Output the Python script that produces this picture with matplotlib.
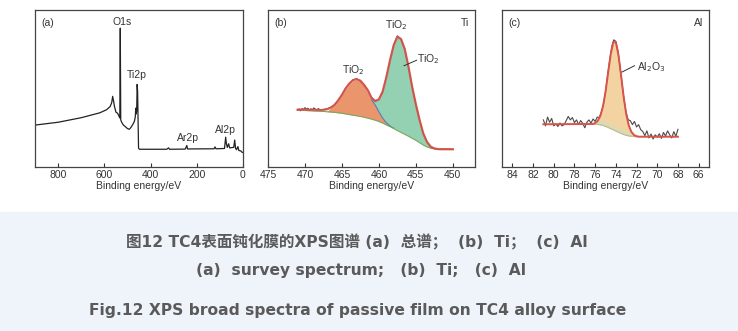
import numpy as np
import matplotlib
matplotlib.use('Agg')
import matplotlib.pyplot as plt
from matplotlib.patches import Rectangle

plt.rcParams['font.family'] = ['Liberation Sans', 'DejaVu Sans']

# (a) survey spectrum, binding energy (eV) / normalised intensity
survey_ev = [900, 800, 700, 620, 590, 575, 568, 564, 560, 556, 550, 545, 541, 536, 533,
             531, 529, 525, 518, 510, 500, 492, 485, 478, 470, 466, 464, 462, 460, 458,
             456, 454, 452, 448, 400, 330, 322, 318, 250, 243, 240, 125, 121, 117, 80,
             75, 72, 68, 62, 58, 40, 36, 32, 28, 22, 18, 10, 5, 0]
survey_val = [0.267, 0.285, 0.314, 0.345, 0.365, 0.385, 0.410, 0.450, 0.420, 0.385, 0.350,
              0.345, 0.338, 0.322, 0.312, 0.884, 0.300, 0.285, 0.268, 0.258, 0.245, 0.240,
              0.252, 0.268, 0.290, 0.320, 0.375, 0.338, 0.360, 0.526, 0.480, 0.300, 0.120,
              0.113, 0.113, 0.113, 0.122, 0.113, 0.114, 0.137, 0.115, 0.116, 0.128, 0.116,
              0.118, 0.190, 0.150, 0.125, 0.148, 0.122, 0.125, 0.172, 0.118, 0.110, 0.130,
              0.105, 0.103, 0.095, 0.092]
survey_peaks = ['O1s', 'Ti2p', 'Ar2p', 'Al2p']
survey_peak_pos = [(524, 0.926), (459, 0.583), (238, 0.185), (74, 0.236)]

# (b) Ti 2p narrow scan, 0.5 eV grid
ti_ev = [471.0 - 0.5 * i for i in range(43)]
ti_bg = [0.363, 0.362, 0.360, 0.358, 0.357, 0.356, 0.355, 0.354, 0.352, 0.350, 0.348,
         0.345, 0.342, 0.338, 0.334, 0.330, 0.326, 0.322, 0.317, 0.311, 0.305, 0.298,
         0.290, 0.280, 0.268, 0.257, 0.245, 0.232, 0.220, 0.208, 0.196, 0.183, 0.170,
         0.155, 0.140, 0.128, 0.120, 0.116, 0.114, 0.113, 0.113, 0.113, 0.113]
ti_fit = [0.365, 0.366, 0.365, 0.364, 0.363, 0.362, 0.362, 0.364, 0.368, 0.378, 0.396,
          0.424, 0.460, 0.500, 0.532, 0.552, 0.559, 0.550, 0.522, 0.490, 0.440, 0.421,
          0.430, 0.480, 0.570, 0.680, 0.775, 0.830, 0.815, 0.750, 0.640, 0.510, 0.400,
          0.300, 0.215, 0.160, 0.130, 0.118, 0.114, 0.113, 0.113, 0.113, 0.113]
# background + Ti 2p1/2 component
ti_comp1 = [0.363, 0.362, 0.360, 0.358, 0.357, 0.356, 0.355, 0.354, 0.353, 0.377, 0.394,
            0.422, 0.457, 0.496, 0.528, 0.548, 0.555, 0.546, 0.516, 0.472, 0.428, 0.395,
            0.352, 0.312, 0.282, 0.262, 0.247, 0.233, 0.220, 0.208, 0.196, 0.183, 0.170,
            0.155, 0.140, 0.128, 0.120, 0.116, 0.114, 0.113, 0.113, 0.113, 0.113]
ti_raw_ev = [471.0, 470.8, 470.6, 470.4, 470.2, 470.0, 469.8, 469.6, 469.4, 469.2, 469.0,
             468.8, 468.6, 468.4, 468.2, 468.0, 467.8, 467.6, 467.0, 466.5, 466.0, 465.5,
             465.0, 464.5, 464.0, 463.5, 463.0, 462.5, 462.0, 461.5, 461.0, 460.5, 460.0,
             459.5, 459.0, 458.5, 458.0, 457.5, 457.0, 456.5, 456.0, 455.5, 455.0, 454.5,
             454.0, 453.5, 453.0, 452.5, 452.0, 451.0, 450.0]
ti_raw = [0.362, 0.370, 0.358, 0.372, 0.366, 0.378, 0.368, 0.374, 0.362, 0.371, 0.365,
          0.376, 0.369, 0.364, 0.372, 0.366, 0.363, 0.365, 0.371, 0.381, 0.394, 0.427,
          0.458, 0.503, 0.530, 0.556, 0.562, 0.547, 0.525, 0.487, 0.444, 0.417, 0.433,
          0.477, 0.573, 0.676, 0.779, 0.835, 0.812, 0.754, 0.636, 0.513, 0.397, 0.303,
          0.212, 0.162, 0.128, 0.119, 0.113, 0.114, 0.112]

# (c) Al 2p narrow scan
al_ev = [81.0, 76.25, 76.0, 75.75, 75.5, 75.25, 75.0, 74.75, 74.5, 74.25, 74.0, 73.75,
         73.5, 73.25, 73.0, 72.75, 72.5, 72.25, 72.0, 71.75, 68.0]
al_bg = [0.272, 0.272, 0.272, 0.271, 0.269, 0.265, 0.259, 0.252, 0.244, 0.237, 0.229,
         0.221, 0.214, 0.207, 0.202, 0.198, 0.196, 0.194, 0.193, 0.193, 0.193]
al_fit = [0.272, 0.274, 0.280, 0.294, 0.325, 0.384, 0.478, 0.598, 0.716, 0.795, 0.795,
          0.714, 0.586, 0.449, 0.338, 0.264, 0.224, 0.204, 0.196, 0.193, 0.193]
al_raw_ev = [81.0 - 0.2 * i for i in range(66)]
al_raw = [0.300, 0.262, 0.318, 0.285, 0.309, 0.262, 0.275, 0.258, 0.280, 0.262, 0.270,
          0.295, 0.322, 0.300, 0.315, 0.283, 0.300, 0.270, 0.296, 0.278, 0.250, 0.285,
          0.300, 0.280, 0.306, 0.290, 0.318, 0.315, 0.350, 0.400, 0.478, 0.585, 0.680,
          0.765, 0.810, 0.800, 0.740, 0.640, 0.530, 0.425, 0.345, 0.300, 0.295, 0.270,
          0.290, 0.255, 0.270, 0.238, 0.226, 0.200, 0.230, 0.185, 0.210, 0.178, 0.205,
          0.190, 0.212, 0.182, 0.220, 0.198, 0.230, 0.205, 0.185, 0.225, 0.196, 0.240]

RED = '#d9534a'
RAW = '#4a4a4a'
TXT = '#333333'


def style_axes(ax, xlim, ticks):
    ax.set_xlim(*xlim)
    ax.set_ylim(0, 1)
    ax.set_xticks(ticks)
    ax.set_yticks([])
    ax.tick_params(axis='x', direction='in', length=3, width=0.8, pad=2,
                   labelsize=7.5, colors=TXT)
    for s in ax.spines.values():
        s.set_linewidth(0.9)
        s.set_color('#444444')
    ax.set_xlabel('Binding energy/eV', fontsize=7.5, color=TXT, labelpad=1)


fig = plt.figure(figsize=(7.38, 3.31), dpi=100)
fig.patches.append(Rectangle((0, 0), 1, 119 / 331, transform=fig.transFigure,
                             color='#eff3fa', zorder=0))

h = 157 / 331
y0 = 1 - 167 / 331
ax_a = fig.add_axes([35 / 738, y0, 208 / 738, h])
ax_b = fig.add_axes([268 / 738, y0, 207 / 738, h])
ax_c = fig.add_axes([502 / 738, y0, 207 / 738, h])

# (a)
ax_a.plot(survey_ev, survey_val, color='#222222', lw=0.9)
style_axes(ax_a, (900, 0), [800, 600, 400, 200, 0])
for name, (x, y) in zip(survey_peaks, survey_peak_pos):
    ax_a.text(x, y, name, ha='center', va='center', fontsize=7.5, color=TXT)
ax_a.text(0.03, 0.95, '(a)', transform=ax_a.transAxes, ha='left', va='top',
          fontsize=7.5, color=TXT)

# (b)
ti_ev_a = np.array(ti_ev)
ti_bg_a = np.array(ti_bg)
ti_fit_a = np.array(ti_fit)
ti_c1_a = np.array(ti_comp1)
ax_b.fill_between(ti_ev_a, ti_bg_a, ti_c1_a, where=ti_ev_a >= 458.0,
                  color='#ea956b', lw=0)
ax_b.fill_between(ti_ev_a, ti_c1_a, ti_fit_a, where=ti_ev_a <= 461.0,
                  color='#93d1b2', lw=0)
seg = (ti_ev_a <= 461.0) & (ti_ev_a >= 458.0)
ax_b.plot(ti_ev_a[seg], ti_c1_a[seg], color='#4d7fb8', lw=0.8)
ax_b.plot(ti_ev, ti_bg, color='#7aa95e', lw=0.8)
ax_b.plot(ti_raw_ev, ti_raw, color=RAW, lw=0.8)
ax_b.plot(ti_ev, ti_fit, color=RED, lw=1.6, alpha=0.9)
style_axes(ax_b, (475, 447), [475, 470, 465, 460, 455, 450])
ax_b.text(457.7, 0.905, 'TiO$_2$', ha='center', va='center', fontsize=7.5, color=TXT)
ax_b.text(463.5, 0.62, 'TiO$_2$', ha='center', va='center', fontsize=7.5, color=TXT)
ax_b.text(454.9, 0.69, 'TiO$_2$', ha='left', va='center', fontsize=7.5, color=TXT)
ax_b.plot([454.9, 456.6], [0.68, 0.645], color='#333333', lw=0.7)
ax_b.text(0.03, 0.95, '(b)', transform=ax_b.transAxes, ha='left', va='top',
          fontsize=7.5, color=TXT)
ax_b.text(0.97, 0.95, 'Ti', transform=ax_b.transAxes, ha='right', va='top',
          fontsize=7.5, color=TXT)

# (c)
al_ev_a = np.array(al_ev)
al_bg_a = np.array(al_bg)
peak = (al_ev_a <= 76.25) & (al_ev_a >= 71.75)
ax_c.fill_between(al_ev_a, al_bg_a, al_fit, where=peak, color='#f4d3a3', lw=0)
ax_c.fill_between(al_ev_a, al_bg_a, np.minimum(al_bg_a + 0.03, al_fit),
                  where=peak, color='#ddd9b2', lw=0)
ax_c.plot(al_ev, al_bg, color='#b8bd8e', lw=0.8)
ax_c.plot(al_raw_ev, al_raw, color=RAW, lw=0.8)
ax_c.plot(al_ev, al_fit, color=RED, lw=1.4)
style_axes(ax_c, (85, 65), [84, 82, 80, 78, 76, 74, 72, 70, 68, 66])
ax_c.text(72.0, 0.635, 'Al$_2$O$_3$', ha='left', va='center', fontsize=7.5, color=TXT)
ax_c.plot([72.2, 73.4], [0.645, 0.605], color='#333333', lw=0.7)
ax_c.text(0.03, 0.95, '(c)', transform=ax_c.transAxes, ha='left', va='top',
          fontsize=7.5, color=TXT)
ax_c.text(0.97, 0.95, 'Al', transform=ax_c.transAxes, ha='right', va='top',
          fontsize=7.5, color=TXT)

# caption
cap_font = ['DejaVu Sans', 'Noto Sans CJK SC']
cap_kw = dict(ha='center', va='center', fontsize=11.2, fontweight='bold',
              color='#5a5a5a', family=cap_font)
fig.text(0.484, 1 - 242 / 331, '图12 TC4表面钝化膜的XPS图谱 (a)  总谱；  (b)  Ti；  (c)  Al',
         **cap_kw)
fig.text(0.489, 1 - 271 / 331, '(a)  survey spectrum;   (b)  Ti;   (c)  Al', **cap_kw)
fig.text(0.484, 1 - 310 / 331, 'Fig.12 XPS broad spectra of passive film on TC4 alloy surface',
         **cap_kw)

fig.savefig('out.png', dpi=100)
